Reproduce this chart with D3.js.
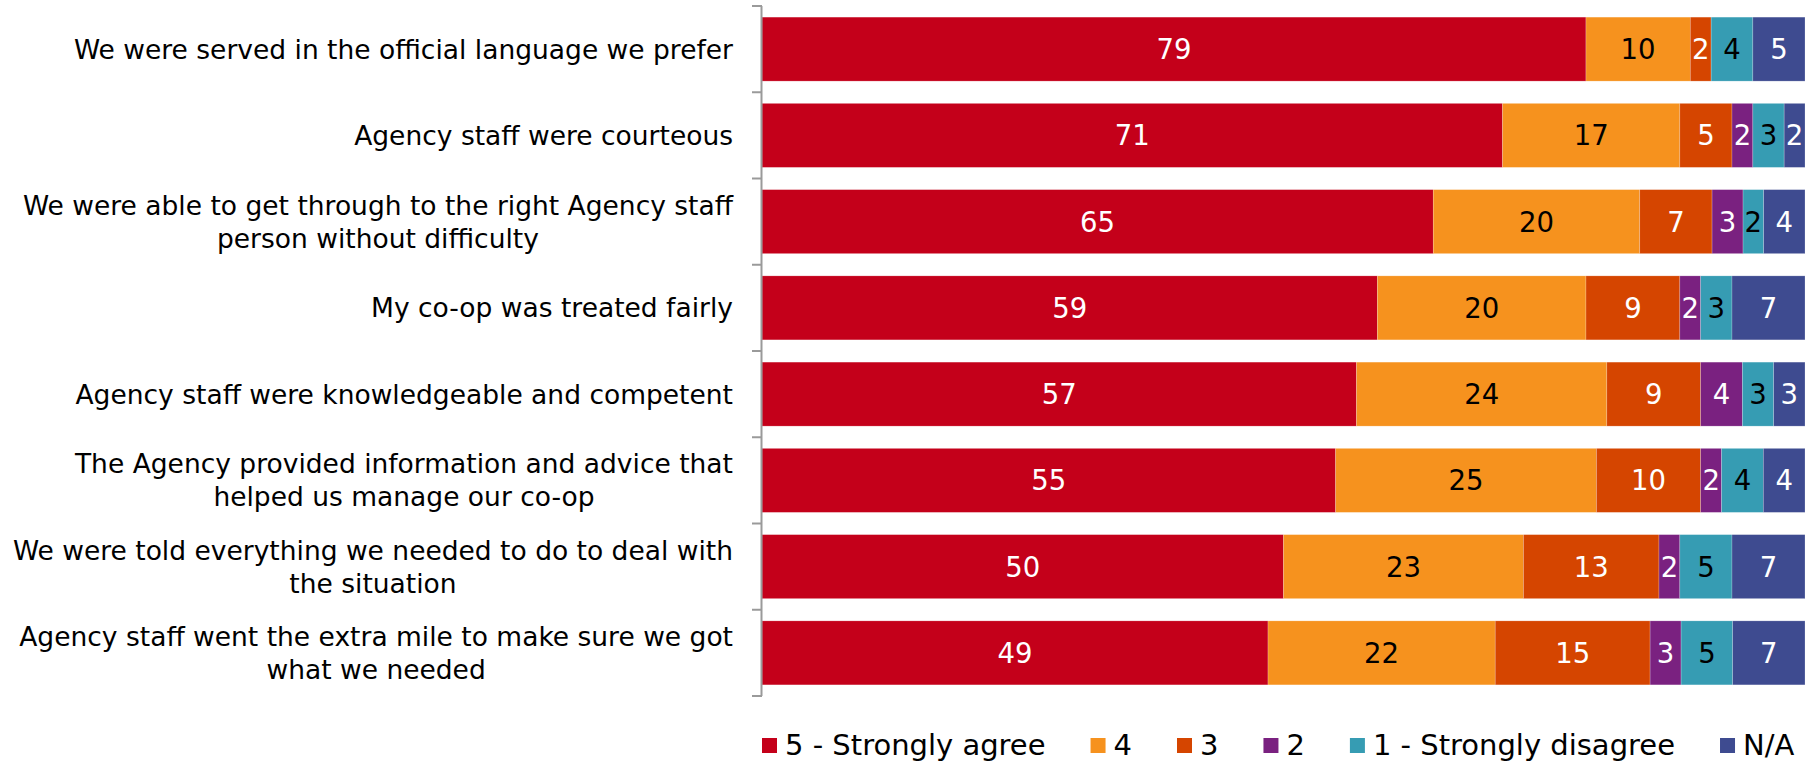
<!DOCTYPE html>
<html>
<head>
<meta charset="utf-8">
<script src="https://cdn.jsdelivr.net/npm/d3@7"></script>
<style>
  body { margin: 0; background: #fff; }
  svg text { font-family: "DejaVu Sans", Verdana, sans-serif; }
</style>
</head>
<body>
<span></span>
<script>
let width = 1820;
let height = 763;

// data
let categories = [
    "We were served in the official language we prefer",
    "Agency staff were courteous",
    "We were able to get through to the right Agency staff\nperson without difficulty",
    "My co-op was treated fairly",
    "Agency staff were knowledgeable and competent",
    "The Agency provided information and advice that\nhelped us manage our co-op",
    "We were told everything we needed to do to deal with\nthe situation",
    "Agency staff went the extra mile to make sure we got\nwhat we needed"
];
let seriesNames = ["5 - Strongly agree", "4", "3", "2", "1 - Strongly disagree", "N/A"];
let agree5 = [79, 71, 65, 59, 57, 55, 50, 49];
let agree4 = [10, 17, 20, 20, 24, 25, 23, 22];
let neutral3 = [2, 5, 7, 9, 9, 10, 13, 15];
let disagree2 = [0, 2, 3, 2, 4, 2, 2, 3];
let disagree1 = [4, 3, 2, 3, 3, 4, 5, 5];
let notApplicable = [5, 2, 4, 7, 3, 4, 7, 7];

let colors = ["#c4001a", "#f6921e", "#d54500", "#7a2180", "#369cb3", "#3e4b90"];
let labelColors = ["#fff", "#000", "#fff", "#fff", "#000", "#fff"];

let seriesValues = [agree5, agree4, neutral3, disagree2, disagree1, notApplicable];
let rows = categories.map(function (c, i) {
    let r = { category: c };
    seriesNames.forEach(function (s, j) { r[s] = seriesValues[j][i]; });
    return r;
});

// 100% stacked: each row is normalised to its own total
let stacked = d3.stack()
    .keys(seriesNames)
    .offset(d3.stackOffsetExpand)(rows);

let svg = d3.select("span")
    .append("svg")
    .attr("width", width)
    .attr("height", height);

let x = d3.scaleLinear().domain([0, 1]).range([762, 1805]);
let y = d3.scaleBand()
    .domain(categories)
    .range([6, 696])
    .paddingInner(0.258)
    .paddingOuter(0.129);

// bars
let groups = svg.selectAll("g.series")
    .data(stacked)
    .enter().append("g")
    .attr("class", "series")
    .attr("fill", function (d, i) { return colors[i]; });

groups.selectAll("rect")
    .data(function (d) { return d; })
    .enter().append("rect")
    .attr("x", function (d) { return x(d[0]); })
    .attr("y", function (d) { return y(d.data.category); })
    .attr("width", function (d) { return x(d[1]) - x(d[0]); })
    .attr("height", y.bandwidth())
    .attr("stroke", "rgba(255,255,255,0.35)")
    .attr("stroke-width", 0.6);

// value labels
groups.each(function (s, i) {
    d3.select(this).selectAll("text")
        .data(s.filter(function (d) { return d.data[s.key] > 0; }))
        .enter().append("text")
        .attr("x", function (d) { return (x(d[0]) + x(d[1])) / 2; })
        .attr("y", function (d) { return y(d.data.category) + y.bandwidth() / 2; })
        .attr("dy", "0.36em")
        .attr("text-anchor", "middle")
        .attr("font-size", 27.5)
        .attr("fill", labelColors[i])
        .text(function (d) { return d.data[s.key]; });
});

// axis
let axis = svg.append("g")
    .attr("transform", "translate(761.5,0)")
    .call(d3.axisLeft(y).tickSize(0).tickFormat(""));
axis.select(".domain").attr("stroke", "#9a9a9a").attr("stroke-width", 2)
    .attr("d", "M0,6V696");

// tick marks between categories
let tickYs = categories.map(function (c) { return y(c) - y.step() * y.paddingInner() / 2; });
tickYs.push(696);
tickYs[0] = 6;
svg.selectAll("line.tick")
    .data(tickYs)
    .enter().append("line")
    .attr("class", "tick")
    .attr("x1", 752).attr("x2", 762)
    .attr("y1", function (d) { return d; })
    .attr("y2", function (d) { return d; })
    .attr("stroke", "#9a9a9a")
    .attr("stroke-width", 2);

// category labels (block right aligned, lines centred on each other)
let lineH = 33;
let labelRight = 733;
categories.forEach(function (c) {
    let lines = c.split("\n");
    let cy = y(c) + y.bandwidth() / 2;
    let t = svg.append("text")
        .attr("font-size", 26.5)
        .attr("fill", "#000")
        .attr("text-anchor", "middle");
    lines.forEach(function (l, k) {
        t.append("tspan")
            .attr("y", cy + (k - (lines.length - 1) / 2) * lineH)
            .attr("dy", "0.36em")
            .text(l);
    });
    let w = 0;
    t.selectAll("tspan").each(function () { w = Math.max(w, this.getComputedTextLength()); });
    t.selectAll("tspan").attr("x", labelRight - w / 2);
});

// legend
let legendX = 762;
let legendY = 745;
seriesNames.forEach(function (s, i) {
    let g = svg.append("g").attr("transform", "translate(" + legendX + "," + legendY + ")");
    g.append("rect")
        .attr("x", 0).attr("y", -7)
        .attr("width", 15).attr("height", 15)
        .attr("fill", colors[i]);
    let t = g.append("text")
        .attr("x", 23)
        .attr("dy", "0.34em")
        .attr("font-size", 29)
        .attr("fill", "#000")
        .text(s);
    legendX += 23 + t.node().getComputedTextLength() + 45;
});
</script>
</body>
</html>
